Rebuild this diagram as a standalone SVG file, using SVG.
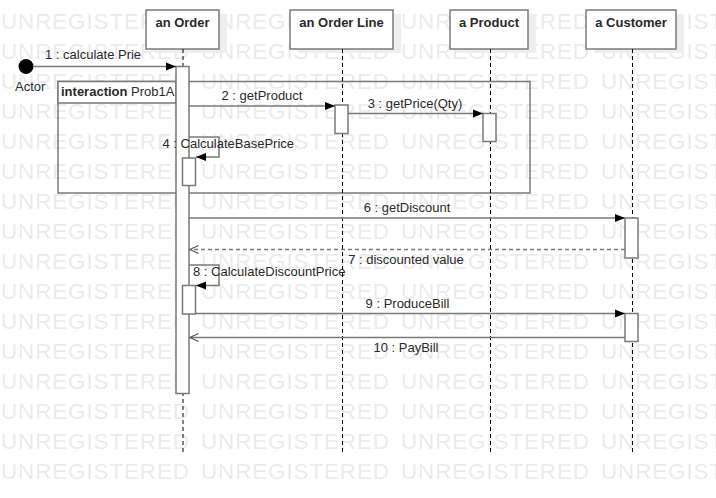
<svg xmlns="http://www.w3.org/2000/svg" width="716" height="498" viewBox="0 0 716 498">
  <style>
    .head { fill: #ffffff; stroke: #7a7a7a; stroke-width: 1.5; }
    .shadow { fill: #eeeeee; stroke: none; }
    .life { stroke: #000000; stroke-width: 1; stroke-dasharray: 4 3; fill: none; }
    .act { fill: #ffffff; stroke: #7a7a7a; stroke-width: 1.5; }
    .msg { stroke: #7a7a7a; stroke-width: 1.5; fill: none; }
    .ret { stroke: #7a7a7a; stroke-width: 1.5; fill: none; stroke-dasharray: 4 3; }
    .frame { fill: none; stroke: #7a7a7a; stroke-width: 1.5; }
    .tag { fill: #ffffff; stroke: #7a7a7a; stroke-width: 1.5; }
    text { font-family: "Liberation Sans", Arial, sans-serif; font-size: 13px; fill: #2a2a2a; }
    .title { font-weight: bold; text-anchor: middle; }
    .mid { text-anchor: middle; }
    .wm { font-size: 22.5px; fill: #ebebeb; }
  </style>
  <defs>
    <marker id="solidHead" markerUnits="userSpaceOnUse" markerWidth="11" markerHeight="10" refX="10" refY="4.5" orient="auto" overflow="visible">
      <path d="M0,0.5 L10,4.5 L0,8.5 Z" fill="#000000"/>
    </marker>
    <marker id="openHead" markerUnits="userSpaceOnUse" markerWidth="10" markerHeight="10" refX="8.5" refY="4" orient="auto" overflow="visible">
      <path d="M0,0 L8.5,4 L0,8" fill="none" stroke="#555555" stroke-width="1.2"/>
    </marker>
    <pattern id="stamp" patternUnits="userSpaceOnUse" x="0" y="0" width="200" height="30">
      <text class="wm" x="1" y="28.5" textLength="188" lengthAdjust="spacing">UNREGISTERED</text>
    </pattern>
  </defs>

  <rect x="0" y="0" width="716" height="498" fill="#ffffff"/>
  <rect id="watermark" x="0" y="0" width="716" height="482" fill="url(#stamp)"/>

  <!-- interaction frame -->
  <g id="frame-prob1a">
    <rect class="frame" x="58" y="81.5" width="472" height="111.5"/>
    <rect class="tag" x="58" y="81.5" width="118" height="21.5"/>
    <text x="61" y="96"><tspan font-weight="bold">interaction</tspan> Prob1A</text>
  </g>

  <!-- actor -->
  <g id="actor">
    <circle cx="26" cy="66.5" r="7.5" fill="#000000"/>
    <text x="15" y="91">Actor</text>
  </g>

  <!-- lifelines with their activation bars -->
  <g id="an-order">
    <rect class="shadow" x="154" y="14" width="73" height="39"/>
    <rect class="head" x="146" y="10" width="73" height="39"/>
    <text class="title" x="182.5" y="27">an Order</text>
    <line class="life" x1="183" y1="49" x2="183" y2="455"/>
    <rect class="act" x="176" y="66.5" width="13" height="327"/>
    <rect class="act" x="182.5" y="158" width="13" height="27.5"/>
    <rect class="act" x="182.5" y="285.5" width="13" height="28.5"/>
  </g>
  <g id="an-order-line">
    <rect class="shadow" x="298" y="14" width="103" height="39"/>
    <rect class="head" x="290" y="10" width="103" height="39"/>
    <text class="title" x="341.5" y="27">an Order Line</text>
    <line class="life" x1="342.5" y1="49" x2="342.5" y2="455"/>
    <rect class="act" x="335" y="105" width="13" height="28.5"/>
  </g>
  <g id="a-product">
    <rect class="shadow" x="458" y="14" width="78" height="39"/>
    <rect class="head" x="450" y="10" width="78" height="39"/>
    <text class="title" x="489" y="27">a Product</text>
    <line class="life" x1="490.5" y1="49" x2="490.5" y2="455"/>
    <rect class="act" x="483" y="113.5" width="13" height="28"/>
  </g>
  <g id="a-customer">
    <rect class="shadow" x="594" y="14" width="90" height="39"/>
    <rect class="head" x="586" y="10" width="90" height="39"/>
    <text class="title" x="631" y="27">a Customer</text>
    <line class="life" x1="632.5" y1="49" x2="632.5" y2="455"/>
    <rect class="act" x="625" y="218" width="13" height="40"/>
    <rect class="act" x="625" y="313.5" width="13" height="28"/>
  </g>

  <!-- messages -->
  <g id="connectors">
    <line class="msg" x1="33" y1="66.5" x2="176" y2="66.5" marker-end="url(#solidHead)"/>
    <text x="45" y="59">1 : calculate Prie</text>

    <line class="msg" x1="189" y1="106" x2="335" y2="106" marker-end="url(#solidHead)"/>
    <text class="mid" x="262" y="100">2 : getProduct</text>

    <line class="msg" x1="348" y1="113.5" x2="483" y2="113.5" marker-end="url(#solidHead)"/>
    <text class="mid" x="415" y="107.5">3 : getPrice(Qty)</text>

    <path class="msg" d="M189,137 H219 V157 H196" marker-end="url(#solidHead)"/>
    <text x="162.5" y="147.5">4 : CalculateBasePrice</text>

    <line class="msg" x1="189" y1="218" x2="625" y2="218" marker-end="url(#solidHead)"/>
    <text class="mid" x="407" y="212">6 : getDiscount</text>

    <line class="ret" x1="625" y1="249.5" x2="190" y2="249.5" marker-end="url(#openHead)"/>
    <text class="mid" x="406" y="264">7 : discounted value</text>

    <path class="msg" d="M189,265 H219 V285.5 H196" marker-end="url(#solidHead)"/>
    <text x="193" y="275.5">8 : CalculateDiscountPrice</text>

    <line class="msg" x1="196" y1="313.5" x2="625" y2="313.5" marker-end="url(#solidHead)"/>
    <text class="mid" x="407.5" y="307.5">9 : ProduceBill</text>

    <line class="msg" x1="625" y1="337.5" x2="190" y2="337.5" marker-end="url(#openHead)"/>
    <text class="mid" x="406" y="352">10 : PayBill</text>
  </g>
</svg>
